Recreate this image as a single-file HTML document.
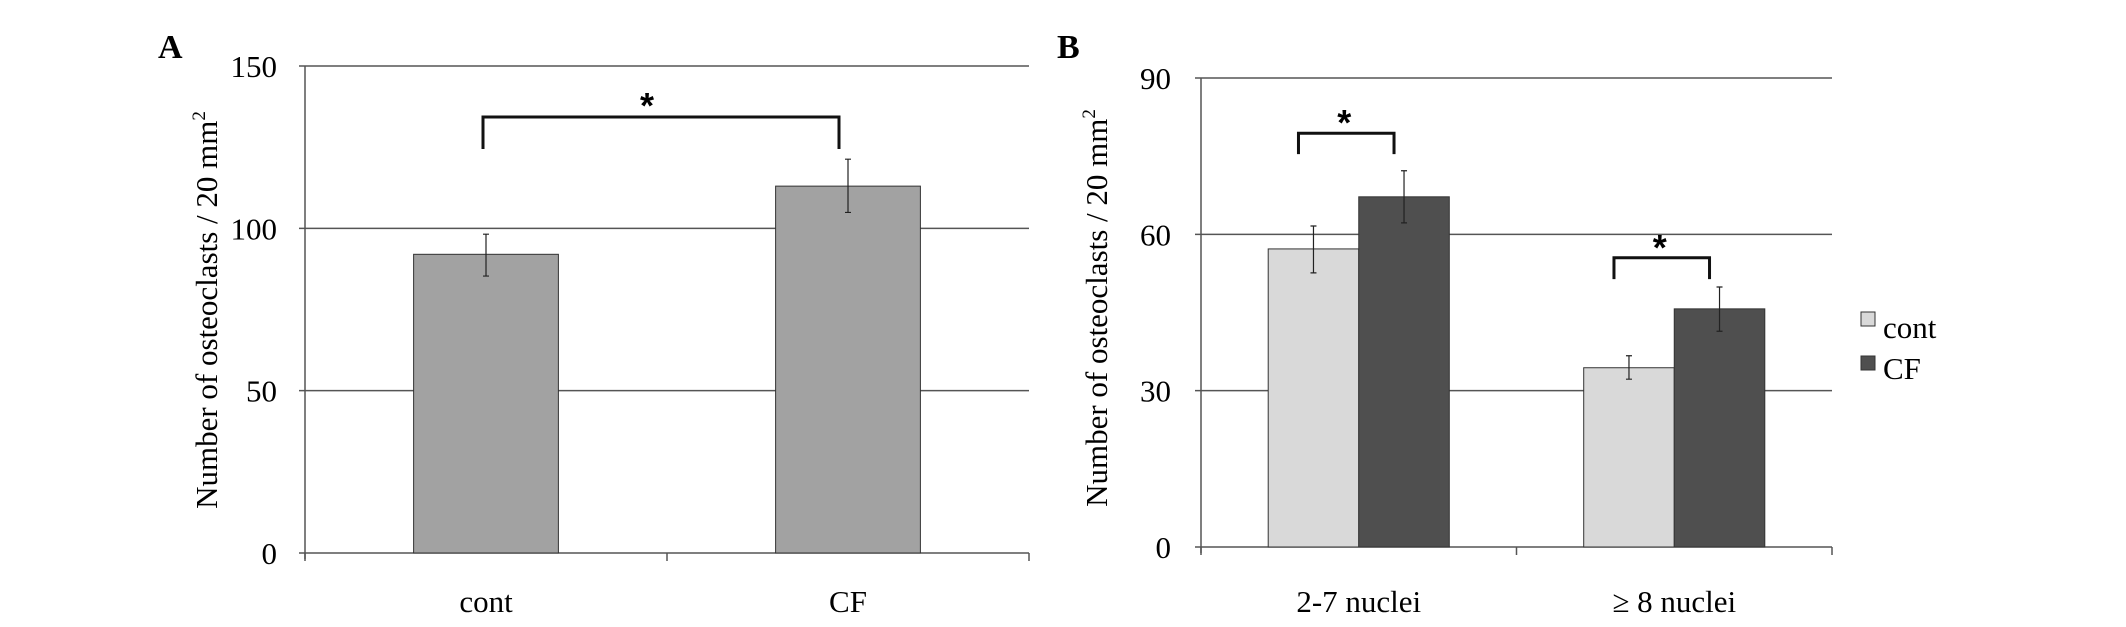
<!DOCTYPE html>
<html><head><meta charset="utf-8"><style>
body{margin:0;background:#fff;}
svg{display:block;font-family:"Liberation Serif",serif;}
</style></head><body>
<svg id="c" width="2126" height="627" viewBox="0 0 2126 627" xmlns="http://www.w3.org/2000/svg">
<text x="158" y="58" font-size="34" font-weight="bold">A</text>
<text x="1057" y="58" font-size="34" font-weight="bold">B</text>
<text transform="translate(217,310) rotate(-90)" text-anchor="middle" font-size="31">Number of osteoclasts / 20 mm<tspan font-size="19" dy="-12">2</tspan></text>
<text transform="translate(1107,308) rotate(-90)" text-anchor="middle" font-size="31">Number of osteoclasts / 20 mm<tspan font-size="19" dy="-12">2</tspan></text>
<g id="a"></g><g id="b"></g>
<rect x="1861" y="312" width="14" height="14" fill="#d9d9d9" stroke="#333" stroke-width="1"/>
<text x="1883" y="338" font-size="31">cont</text>
<rect x="1861" y="356" width="14" height="14" fill="#4f4f4f" stroke="#333" stroke-width="1"/>
<text x="1883" y="379" font-size="31">CF</text>
</svg>
<script>
const aCats=["cont","CF"];
const aVals=[92,113];
const aErrHi=[98.2,121.3];
const aErrLo=[85.3,104.9];
const aTicks=[0,50,100,150];
const bCats=["2-7 nuclei","\u2265 8 nuclei"];
const bCont=[57.2,34.4];
const bContHi=[61.6,36.7];
const bContLo=[52.6,32.2];
const bCF=[67.2,45.7];
const bCFHi=[72.2,49.9];
const bCFLo=[62.2,41.4];
const bTicks=[0,30,60,90];
const bBracketTop=[79.4,55.5];
const bBracketLeg=[75.4,51.4];
const NS="http://www.w3.org/2000/svg";
function mk(p,t,at,txt){const e=document.createElementNS(NS,t);for(const k in at)e.setAttribute(k,at[k]);if(txt!==undefined)e.textContent=txt;p.appendChild(e);return e;}
// Panel A
(function(){
const g=document.getElementById('a');
const x0=305,x1=1029,y0=553,y1=66,max=150;
const Y=v=>y0-(v/max)*(y0-y1);
const cw=(x1-x0)/aCats.length;
aTicks.forEach(t=>{
 const l=mk(g,'line',{x1:x0-6,x2:x1,y1:Y(t),y2:Y(t),stroke:'#555','stroke-width':1.5});
 
 
 const tx=mk(g,'text',{x:x0-28,y:Y(t)+11,'text-anchor':'end','font-size':31},String(t));
 
 
});
const ax=mk(g,'line',{x1:x0,x2:x0,y1:y1,y2:y0+6,stroke:'#555','stroke-width':1.5});


for(let i=0;i<=aCats.length;i++){const tk=mk(g,'line',{x1:x0+i*cw,x2:x0+i*cw,y1:y0,y2:y0+8,stroke:'#555','stroke-width':1.5});
 
 }
const bw=cw*0.4, cx=[];
aCats.forEach((c,i)=>{
 const cxi=x0+cw*(i+0.5);cx.push(cxi);
 const r=mk(g,'rect',{x:cxi-bw/2,y:Y(aVals[i]),width:bw,height:y0-Y(aVals[i]),fill:'#a2a2a2',stroke:'#333','stroke-width':1});
 
 
 const e=mk(g,'path',{d:`M${cxi} ${Y(aErrHi[i])}V${Y(aErrLo[i])}M${cxi-3} ${Y(aErrHi[i])}h6M${cxi-3} ${Y(aErrLo[i])}h6`,stroke:'#222','stroke-width':1.2,fill:'none'});
 
 
 const t=mk(g,'text',{x:cxi,y:612,'text-anchor':'middle','font-size':31},c);
 
 
});
const br=mk(g,'path',{d:`M${cx[0]-3} 149V117H${cx[1]-9}V149`,stroke:'#111','stroke-width':3,fill:'none'});


const st=mk(g,'text',{x:(cx[0]+cx[1])/2-20,y:118,'text-anchor':'middle','font-size':36,'font-weight':'bold','font-family':'Liberation Sans, sans-serif'},'*');


})();
// Panel B
(function(){
const g=document.getElementById('b');
const x0=1201,x1=1832,y0=547,y1=78,max=90;
const Y=v=>y0-(v/max)*(y0-y1);
const cw=(x1-x0)/bCats.length;
bTicks.forEach(t=>{
 const l=mk(g,'line',{x1:x0-6,x2:x1,y1:Y(t),y2:Y(t),stroke:'#555','stroke-width':1.5});
 
 
 const tx=mk(g,'text',{x:x0-30,y:Y(t)+11,'text-anchor':'end','font-size':31},String(t));
 
 
});
const ax=mk(g,'line',{x1:x0,x2:x0,y1:y1,y2:y0+6,stroke:'#555','stroke-width':1.5});


for(let i=0;i<=bCats.length;i++){const tk=mk(g,'line',{x1:x0+i*cw,x2:x0+i*cw,y1:y0,y2:y0+8,stroke:'#555','stroke-width':1.5});
 
 }
const bw=cw*0.287;
const series=[[bCont,bContHi,bContLo,'#d9d9d9','cont'],[bCF,bCFHi,bCFLo,'#4f4f4f','cf']];
bCats.forEach((c,i)=>{
 const cxi=x0+cw*(i+0.5);
 const centers=[];
 series.forEach((s,j)=>{
  const bx=cxi-bw+j*bw;const m=bx+bw/2;centers.push(m);
  const r=mk(g,'rect',{x:bx,y:Y(s[0][i]),width:bw,height:y0-Y(s[0][i]),fill:s[3],stroke:'#333','stroke-width':1});
  
  
  const e=mk(g,'path',{d:`M${m} ${Y(s[1][i])}V${Y(s[2][i])}M${m-3} ${Y(s[1][i])}h6M${m-3} ${Y(s[2][i])}h6`,stroke:'#222','stroke-width':1.2,fill:'none'});
  
  
 });
 const top=Y(bBracketTop[i]), leg=Y(bBracketLeg[i]);
 const lx=centers[0]-15, rx=centers[1]-10;
 const br=mk(g,'path',{d:`M${lx} ${leg}V${top}H${rx}V${leg}`,stroke:'#111','stroke-width':3,fill:'none'});
 
 
 const st=mk(g,'text',{x:(lx+rx)/2-2,y:top+2,'text-anchor':'middle','font-size':36,'font-weight':'bold','font-family':'Liberation Sans, sans-serif'},'*');
 
 
 const t=mk(g,'text',{x:cxi,y:612,'text-anchor':'middle','font-size':31},c);
 
 
});
})();
</script>
</body></html>
